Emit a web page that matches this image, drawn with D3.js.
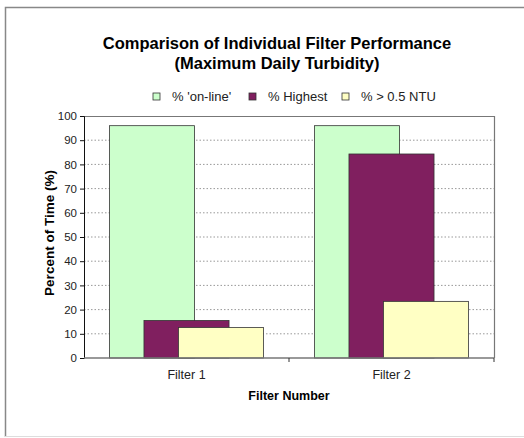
<!DOCTYPE html>
<html>
<head>
<meta charset="utf-8">
<script src="https://cdn.jsdelivr.net/npm/d3@7"></script>
<style>
  body { margin: 0; background: #fff; }
  text { font-family: Arial, "Liberation Sans", sans-serif; }
</style>
</head>
<body>
<div id="chart"></div>
<script>
// Filter performance data
var filters = ['Filter 1', 'Filter 2'];
var seriesNames = ["% 'on-line'", '% Highest', '% > 0.5 NTU'];
var onLine = [96, 96];
var highest = [15.5, 84.3];
var overHalf = [12.6, 23.4];
var yTicks = [0, 10, 20, 30, 40, 50, 60, 70, 80, 90, 100];
var colors = ['#ccffcc', '#801f5f', '#ffffc4'];

var W = 524, H = 438;
var margin = {top: 116, right: 30, bottom: 80, left: 84},
    width = 494 - margin.left,
    height = 358 - margin.top;

var svg = d3.select('#chart')
    .append('svg')
    .attr('width', W)
    .attr('height', H);

// outer chart border (runs off the right edge)
svg.append('path')
    .attr('d', 'M5.5,437V7.5H530')
    .style('fill', 'none')
    .style('stroke', '#888')
    .style('stroke-width', 1.5);
svg.append('line')
    .attr('x1', 5).attr('x2', 524).attr('y1', 436.5).attr('y2', 436.5)
    .style('stroke', '#ddd');

svg.append('text')
    .attr('x', 277).attr('y', 49)
    .attr('text-anchor', 'middle')
    .style('font-size', '16.5px').style('font-weight', 'bold')
    .text('Comparison of Individual Filter Performance');
svg.append('text')
    .attr('x', 277).attr('y', 69)
    .attr('text-anchor', 'middle')
    .style('font-size', '16.5px').style('font-weight', 'bold')
    .text('(Maximum Daily Turbidity)');

var g = svg.append('g')
    .attr('transform', 'translate(' + margin.left + ',' + margin.top + ')');

var x = d3.scaleBand().domain(filters).range([0, width]);
var y = d3.scaleLinear().domain([0, 100]).range([height, 0]);

// gridlines
g.selectAll('.grid')
    .data(yTicks.filter(function(d) { return d > 0 && d < 100; }))
    .enter().append('line')
    .attr('x1', 0).attr('x2', width)
    .attr('y1', function(d) { return y(d); })
    .attr('y2', function(d) { return y(d); })
    .style('stroke', '#999')
    .style('stroke-dasharray', '1.5,2');

// plot frame top + right
g.append('path')
    .attr('d', 'M0,0.5H' + (width + 0.5) + 'V' + height)
    .style('fill', 'none')
    .style('stroke', '#777')
    .style('stroke-width', 1.2);

// bars: overlapping series inside each category
var barW = x.bandwidth() / 2.41;
var step = barW * 0.405;
var series = [onLine, highest, overHalf];
series.forEach(function(vals, s) {
    g.selectAll('.bar' + s)
        .data(vals)
        .enter().append('rect')
        .attr('x', function(d, i) {
            return x(filters[i]) + x.bandwidth() / 2 - (barW + 2 * step) / 2 + s * step;
        })
        .attr('y', function(d) { return y(d); })
        .attr('width', barW)
        .attr('height', function(d) { return height - y(d); })
        .style('fill', colors[s])
        .style('stroke', '#333')
        .style('stroke-width', 0.8);
});

// y axis
var yAxis = d3.axisLeft(y).tickValues(yTicks).tickSize(4).tickPadding(3);
var ya = g.append('g').call(yAxis);
ya.select('.domain').style('stroke', '#111');
ya.selectAll('.tick line').style('stroke', '#111');
ya.selectAll('text').style('font-size', '11.5px').style('fill', '#222');

// x axis
var xa = g.append('g').attr('transform', 'translate(0,' + height + ')');
xa.append('line')
    .attr('x1', 0).attr('x2', width)
    .style('stroke', '#777').style('stroke-width', 1.5);
xa.selectAll('.xt')
    .data([x.bandwidth(), width])
    .enter().append('line')
    .attr('x1', function(d) { return d; }).attr('x2', function(d) { return d; })
    .attr('y1', 0).attr('y2', 4)
    .style('stroke', '#333');
xa.selectAll('.xl')
    .data(filters)
    .enter().append('text')
    .attr('x', function(d) { return x(d) + x.bandwidth() / 2; })
    .attr('y', 21)
    .attr('text-anchor', 'middle')
    .style('font-size', '12.5px').style('fill', '#222')
    .text(function(d) { return d; });

svg.append('text')
    .attr('x', 289).attr('y', 400)
    .attr('text-anchor', 'middle')
    .style('font-size', '12.5px').style('font-weight', 'bold')
    .text('Filter Number');

svg.append('text')
    .attr('transform', 'translate(54,233) rotate(-90)')
    .attr('text-anchor', 'middle')
    .style('font-size', '13.5px').style('font-weight', 'bold')
    .text('Percent of Time (%)');

// legend
var legX = [153, 249, 342];
var leg = svg.selectAll('.leg')
    .data(seriesNames)
    .enter().append('g')
    .attr('transform', function(d, i) { return 'translate(' + legX[i] + ',93)'; });
leg.append('rect')
    .attr('width', 7).attr('height', 7)
    .style('fill', function(d, i) { return colors[i]; })
    .style('stroke', '#333').style('stroke-width', 0.8);
leg.append('text')
    .attr('x', 19).attr('y', 8)
    .style('font-size', '13px').style('fill', '#222')
    .text(function(d) { return d; });
</script>
</body>
</html>
